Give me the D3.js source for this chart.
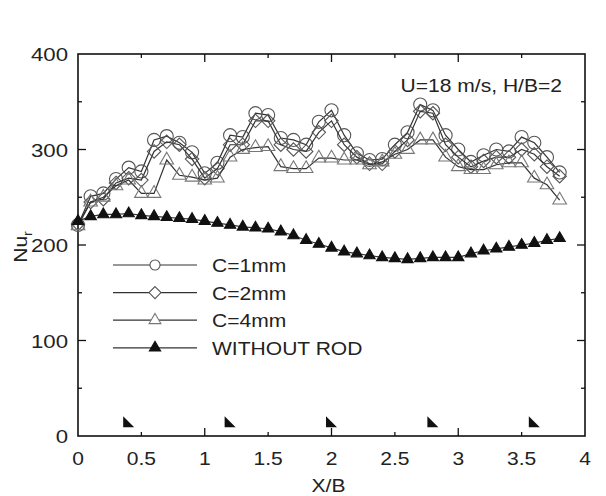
<!DOCTYPE html>
<html>
<head>
<meta charset="utf-8">
<script src="https://cdn.jsdelivr.net/npm/d3@7"></script>
<style>
  body { margin: 0; background: #fff; }
  text { font-family: "Liberation Sans", Arial, sans-serif; fill: #222; }
</style>
</head>
<body>
<div id="chart"></div>
<script>
// data, X/B from 0 to 3.8 in steps of 0.1
var xb = [0, 0.1, 0.2, 0.3, 0.4, 0.5, 0.6, 0.7, 0.8, 0.9, 1.0, 1.1, 1.2, 1.3, 1.4, 1.5, 1.6, 1.7, 1.8, 1.9,
  2.0, 2.1, 2.2, 2.3, 2.4, 2.5, 2.6, 2.7, 2.8, 2.9, 3.0, 3.1, 3.2, 3.3, 3.4, 3.5, 3.6, 3.7, 3.8];

var c1mm = [221, 251, 254, 269, 281, 277, 310, 314, 307, 297, 275, 286, 315, 313, 338, 336, 312, 310, 305, 329,
  341, 315, 296, 289, 290, 305, 318, 347, 341, 315, 300, 287, 294, 300, 298, 313, 307, 292, 276];

var c2mm = [222, 245, 248, 265, 270, 268, 298, 308, 305, 290, 270, 280, 305, 305, 330, 330, 305, 300, 298, 318,
  330, 305, 292, 285, 285, 298, 310, 340, 338, 305, 292, 282, 288, 292, 292, 300, 295, 282, 272];

var c4mm = [220, 245, 250, 262, 268, 254, 254, 289, 273, 271, 268, 270, 292, 300, 302, 303, 282, 280, 280, 291,
  291, 289, 289, 284, 287, 295, 300, 310, 310, 292, 282, 279, 279, 284, 286, 286, 270, 263, 247];

var withoutRod = [225, 230, 232, 232, 233, 231, 230, 229, 228, 227, 225, 223, 221, 219, 218, 217, 214, 210, 205, 201,
  197, 193, 191, 189, 187, 186, 185, 186, 187, 187, 187, 191, 194, 196, 198, 200, 202, 205, 207];

var rodPositions = [0.4, 1.2, 2.0, 2.8, 3.6];
var rodLevel = 15;

var xTicks = [0, 0.5, 1, 1.5, 2, 2.5, 3, 3.5, 4];
var yTicks = [0, 100, 200, 300, 400];
var yMinor = [50, 150, 250, 350];

var svgWidth = 606;
var svgHeight = 496;
var margin = { top: 54, right: 21, bottom: 60, left: 78 };
var width = svgWidth - margin.left - margin.right;
var height = svgHeight - margin.top - margin.bottom;

// the original lettering is a bit wider than Arial, so stretch text sideways
var stretch = 1.17;

var svg = d3.select("#chart").append("svg")
  .attr("width", svgWidth)
  .attr("height", svgHeight);

function label(parent, px, py, str, size, anchor) {
  var g = parent.append("g").attr("transform", `translate(${px}, ${py}) scale(${stretch}, 1)`);
  return g.append("text")
    .attr("text-anchor", anchor || "start")
    .attr("font-size", size)
    .text(str);
}

var chart = svg.append("g")
  .attr("transform", `translate(${margin.left}, ${margin.top})`);

var x = d3.scaleLinear().domain([0, 4]).range([0, width]);
var y = d3.scaleLinear().domain([0, 400]).range([height, 0]);

// frame
chart.append("rect")
  .attr("width", width).attr("height", height)
  .attr("fill", "none").attr("stroke", "#111").attr("stroke-width", 1.6);

// tick labels
xTicks.forEach(function(t) {
  label(chart, x(t), height + 29, d3.format("")(t), 18, "middle");
});
yTicks.forEach(function(t) {
  label(chart, -10, y(t) + 7, t, 19, "end");
});

// inward ticks on all four sides
var ticks = chart.append("g").attr("stroke", "#111").attr("stroke-width", 1.3);
xTicks.slice(1, -1).forEach(function(t) {
  var len = (t % 1 === 0) ? 8 : 4;
  ticks.append("line").attr("x1", x(t)).attr("x2", x(t)).attr("y1", height).attr("y2", height - len);
  ticks.append("line").attr("x1", x(t)).attr("x2", x(t)).attr("y1", 0).attr("y2", len);
});
yTicks.slice(1, -1).concat(yMinor).forEach(function(t) {
  var len = (t % 100 === 0) ? 8 : 4;
  ticks.append("line").attr("y1", y(t)).attr("y2", y(t)).attr("x1", 0).attr("x2", len);
  ticks.append("line").attr("y1", y(t)).attr("y2", y(t)).attr("x1", width).attr("x2", width - len);
});

// axis titles
label(svg, margin.left + width / 2 - 3, 492, "X/B", 18, "middle");

var yTitle = svg.append("text")
  .attr("transform", `translate(27, ${margin.top + height / 2 + 2}) rotate(-90) scale(${stretch}, 1)`)
  .attr("text-anchor", "middle").attr("font-size", 18);
yTitle.append("tspan").text("Nu");
yTitle.append("tspan").attr("font-size", 12).attr("dy", 5).text("r");

// series
var diamond = {
  draw: function(ctx, size) {
    var r = Math.sqrt(size / 2);
    ctx.moveTo(0, -r); ctx.lineTo(r, 0); ctx.lineTo(0, r); ctx.lineTo(-r, 0); ctx.closePath();
  }
};

var series = [
  { name: "C=1mm", values: c1mm, type: d3.symbolCircle, size: 135, legendSize: 80, stroke: "#555", fill: "none" },
  { name: "C=2mm", values: c2mm, type: diamond, size: 90, legendSize: 72, stroke: "#555", fill: "none" },
  { name: "C=4mm", values: c4mm, type: d3.symbolTriangle, size: 80, legendSize: 60, stroke: "#777", fill: "none" },
  { name: "WITHOUT ROD", values: withoutRod, type: d3.symbolTriangle, size: 55, legendSize: 55, stroke: "#111", fill: "#111" }
];

var line = d3.line()
  .x((d, i) => x(xb[i]))
  .y(d => y(d));

series.forEach(function(s) {
  chart.append("path")
    .datum(s.values)
    .attr("d", line)
    .attr("fill", "none")
    .attr("stroke", "#333")
    .attr("stroke-width", 1.2);

  chart.selectAll(null)
    .data(s.values)
    .enter()
    .append("path")
    .attr("transform", (d, i) => `translate(${x(xb[i])}, ${y(d)})`)
    .attr("d", d3.symbol().type(s.type).size(s.size))
    .attr("fill", s.fill)
    .attr("stroke", s.stroke)
    .attr("stroke-width", 1.1);
});

// rod positions
chart.selectAll(".rod")
  .data(rodPositions)
  .enter()
  .append("path")
  .attr("class", "rod")
  .attr("transform", d => `translate(${x(d)}, ${y(rodLevel)})`)
  .attr("d", "M-5.5,-5.5 L-5.5,5.5 L5.5,5.5 Z")
  .attr("fill", "#111");

// legend
var legend = svg.append("g").attr("transform", "translate(113, 265)");
series.forEach(function(s, i) {
  var row = legend.append("g").attr("transform", `translate(0, ${i * 27.6})`);
  row.append("line").attr("x1", 0).attr("x2", 84).attr("y1", 0).attr("y2", 0)
    .attr("stroke", "#333").attr("stroke-width", 1.2);
  row.append("path")
    .attr("transform", "translate(42, 0)")
    .attr("d", d3.symbol().type(s.type).size(s.legendSize))
    .attr("fill", s.fill === "none" ? "#fff" : s.fill)
    .attr("stroke", s.stroke).attr("stroke-width", 1.1);
  label(row, 99, 7, s.name, 18);
});

// annotation
label(svg, 562, 92, "U=18 m/s, H/B=2", 18, "end");
</script>
</body>
</html>
